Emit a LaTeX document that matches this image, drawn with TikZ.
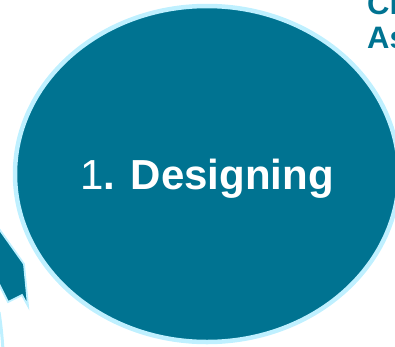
\documentclass[tikz,border=0pt]{standalone}
\usepackage{fontspec}
\setmainfont{Liberation Sans}
\usetikzlibrary{shapes.geometric}
\definecolor{teal1}{HTML}{007391}
\definecolor{cyanlt}{HTML}{BFF0FF}
\tikzset{
  blob/.style={fill=teal1, draw=cyanlt, line width=4.5pt},
  arrowpiece/.style={fill=teal1, draw=cyanlt, line width=1.8pt, line join=miter},
  ringline/.style={draw=cyanlt, line width=3pt},
  headtext/.style={text=teal1, font=\fontsize{31}{34}\selectfont\bfseries, inner sep=0pt, anchor=base west},
  maintext/.style={text=white, font=\fontsize{42}{48}\selectfont, inner sep=0pt, anchor=base}
}
\begin{document}
\begin{tikzpicture}[x=1pt,y=-1pt]
\useasboundingbox (0,0) rectangle (395,346);
\clip (0,0) rectangle (395,346);
% arrow piece bottom-left
\filldraw[arrowpiece] (-3,226) -- (24,264) -- (28,306) -- (22,295) -- (8,302) -- (-3,280) -- cycle;
% outer ring fragment
\draw[ringline] (-1,312) .. controls (1,325) and (2,335) .. (3,350);
% main ellipse
\node[blob, ellipse, minimum width=384pt, minimum height=336pt, inner sep=0pt] (design) at (207,174) {};
\node[maintext] (label) at (207,189) {1\textbf{. Designing}};
% partially visible heading top right
\node[headtext] (h1) at (367,14) {Cl};
\node[headtext] (h2) at (367,48) {As};
\end{tikzpicture}
\end{document}
